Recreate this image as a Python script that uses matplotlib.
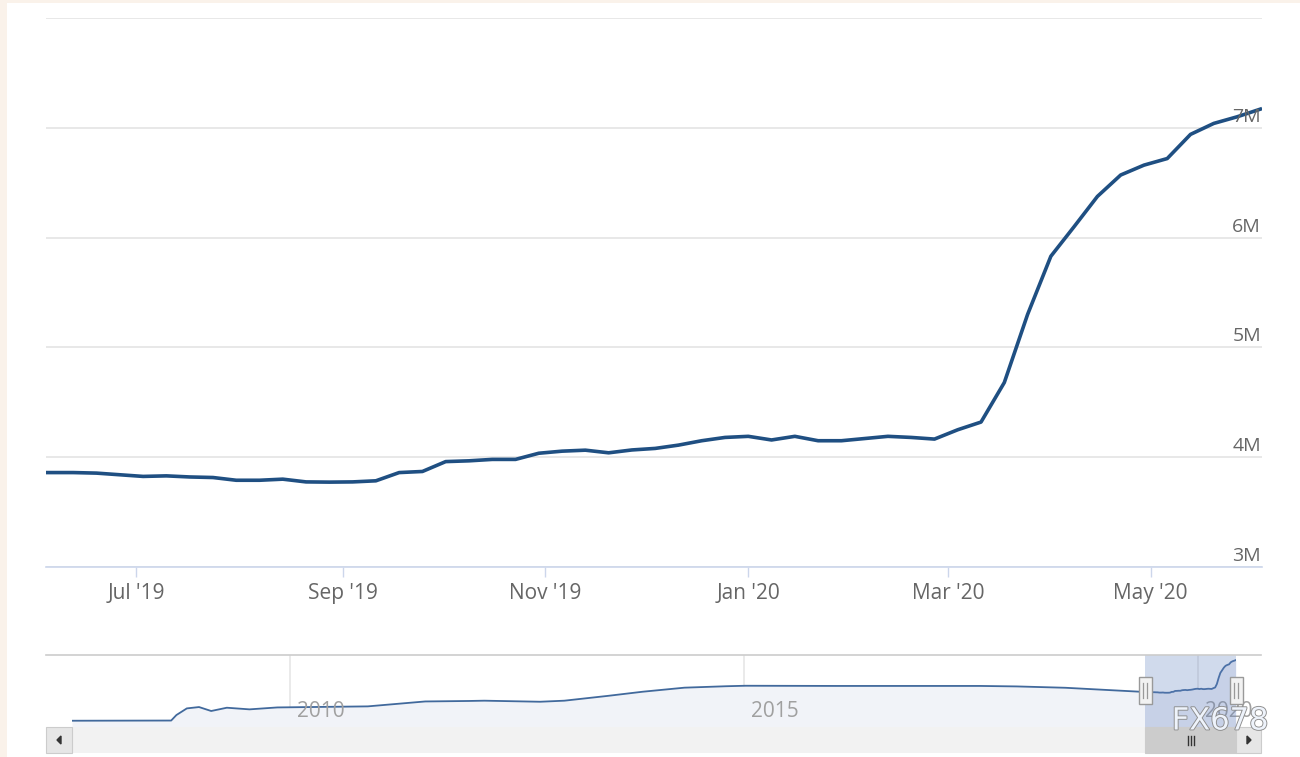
import matplotlib
matplotlib.use('Agg')
import matplotlib.pyplot as plt
import matplotlib.dates as mdates
import matplotlib.transforms as mtransforms
from matplotlib.patches import Rectangle, Polygon
from matplotlib.lines import Line2D
import matplotlib.patheffects as pe
import pandas as pd

plt.rcParams['font.family'] = ['Open Sans', 'DejaVu Sans']

W, H = 1300, 757

# ---------------- data ----------------
# weekly (Wednesday) values, in "M" units
main_start = '2019-05-29'
main_values = [
    3.86, 3.86, 3.86, 3.855, 3.84, 3.825, 3.83, 3.82, 3.815, 3.79,
    3.79, 3.80, 3.775, 3.773, 3.775, 3.785, 3.86, 3.87, 3.96, 3.967,
    3.98, 3.98, 4.036, 4.055, 4.064, 4.04, 4.066, 4.08, 4.11, 4.15,
    4.18, 4.19, 4.157, 4.19, 4.15, 4.15, 4.17, 4.19, 4.18, 4.165,
    4.25, 4.32, 4.68, 5.30, 5.83, 6.10, 6.375, 6.57, 6.66, 6.72,
    6.94, 7.04, 7.10, 7.17,
]
main_dates = pd.date_range(main_start, periods=len(main_values), freq='7D')

view_start = pd.Timestamp('2019-06-03 19:00')
view_end = pd.Timestamp('2020-06-03 12:00')

y_ticks = [3, 4, 5, 6, 7, 8]
y_labels = ['3M', '4M', '5M', '6M', '7M', '']
x_tick_dates = ['2019-07-01', '2019-09-01', '2019-11-01',
                '2020-01-01', '2020-03-01', '2020-05-01']
x_tick_labels = ["Jul '19", "Sep '19", "Nov '19", "Jan '20", "Mar '20", "May '20"]

# long history for the navigator (before the weekly data above)
hist_dates = ['2007-08-08', '2008-09-10', '2008-10-01', '2008-11-12', '2008-12-31',
              '2009-02-18', '2009-04-22', '2009-07-22', '2009-11-11', '2010-11-10',
              '2011-06-29', '2011-12-21', '2012-02-22', '2012-10-03', '2013-01-09',
              '2013-07-03', '2013-11-20', '2014-05-07', '2014-10-22', '2015-01-07',
              '2016-01-06', '2017-08-09', '2018-01-03', '2018-07-18', '2019-01-02']
hist_values = [0.87, 0.89, 1.46, 2.15, 2.29,
               1.88, 2.22, 2.05, 2.25, 2.36,
               2.87, 2.92, 2.95, 2.84, 2.95,
               3.45, 3.88, 4.30, 4.45, 4.50,
               4.48, 4.48, 4.43, 4.29, 4.06]

nav_year_ticks = ['2010-01-01', '2015-01-01', '2020-01-01']
nav_year_labels = ['2010', '2015', '2020']

# ---------------- figure ----------------
fig = plt.figure(figsize=(W / 100, H / 100), dpi=100, facecolor='#faf2ea')


def rect(x, y, w, h, **kw):
    r = Rectangle((x / W, 1 - (y + h) / H), w / W, h / H,
                  transform=fig.transFigure, **kw)
    fig.add_artist(r)
    return r


def fline(xs, ys, **kw):
    fig.add_artist(Line2D([x / W for x in xs], [1 - y / H for y in ys],
                          transform=fig.transFigure, **kw))


# white panel
rect(7, 3, W - 7, H - 3, facecolor='white', edgecolor='none', zorder=0)

# ---------------- main chart ----------------
ax = fig.add_axes([46 / W, 1 - 567 / H, 1216 / W, 549 / H])
ax.set_facecolor('none')
ax.plot(main_dates, main_values, color='#1f4f82', lw=2.6,
        solid_joinstyle='round', zorder=3)
ax.set_xlim(view_start, view_end)
ax.set_ylim(3, 8)
ax.set_yticks(y_ticks)
ax.set_yticklabels([])
ax.tick_params(axis='y', length=0)
ax.grid(axis='y', color='#e6e6e6', lw=1.3)
for s in ['top', 'left', 'right']:
    ax.spines[s].set_visible(False)
ax.spines['bottom'].set_color('#ccd6eb')
ax.spines['bottom'].set_linewidth(1.2)
ax.spines['bottom'].set_zorder(4)
ax.set_xticks(pd.to_datetime(x_tick_dates))
ax.set_xticklabels(x_tick_labels)
ax.tick_params(axis='x', direction='out', length=7.5, width=1, color='#ccd6eb',
               labelcolor='#666666', labelsize=15, pad=4)

ytrans = mtransforms.blended_transform_factory(ax.transAxes, ax.transData)
ytrans = mtransforms.offset_copy(ytrans, fig=fig, x=-1, y=11, units='dots')
for v, lab in zip(y_ticks, y_labels):
    if lab:
        ax.text(1.0, v, lab, transform=ytrans, ha='right', va='center',
                fontsize=14, color='#666666', zorder=5)

# ---------------- navigator ----------------
nav_dates = list(pd.to_datetime(hist_dates)) + list(main_dates[main_dates > pd.Timestamp(hist_dates[-1])])
nav_values = list(hist_values) + [v for d, v in zip(main_dates, main_values)
                                  if d > pd.Timestamp(hist_dates[-1])]

nav = fig.add_axes([72 / W, 1 - 727 / H, 1164 / W, 72 / H])
nav.set_facecolor('none')
nav.fill_between(nav_dates, nav_values, 0, color='#f1f3f8', lw=0, zorder=1)
nav.plot(nav_dates, nav_values, color='#41699c', lw=1.3, zorder=2)
nav.set_xlim(nav_dates[0], nav_dates[-1])
nav.set_ylim(0.22, 7.69)
nav.set_xticks([])
nav.set_yticks([])
for s in nav.spines.values():
    s.set_visible(False)
ntrans = mtransforms.blended_transform_factory(nav.transData, nav.transAxes)
ltrans = mtransforms.offset_copy(ntrans, fig=fig, x=7, y=0, units='dots')
for d, lab in zip(pd.to_datetime(nav_year_ticks), nav_year_labels):
    nav.axvline(d, color='#e6e6e6', lw=1.2, zorder=0.5)
    nav.text(d, 0.21, lab, transform=ltrans, ha='left', va='center',
             fontsize=15, color='#a0a0a0', zorder=2.5)

# selected range mask
nav.axvspan(view_start, view_end, ymin=0, ymax=1,
            color=(102 / 255, 133 / 255, 194 / 255, 0.3), lw=0, zorder=3)

# navigator top outline
fline([46, 1261], [655, 655], color='#cccccc', lw=1.2, zorder=5)

# pixel positions of the selection
fig.canvas.draw()
px0 = nav.transData.transform((mdates.date2num(view_start), 0))[0]
px1 = nav.transData.transform((mdates.date2num(view_end), 0))[0]

# ---------------- scrollbar ----------------
rect(46, 727, 1215, 26, facecolor='#f2f2f2', edgecolor='none', zorder=4)
rect(px0, 727, px1 - px0, 26, facecolor='#cccccc', edgecolor='#cccccc', lw=0.8, zorder=5)
cx = (px0 + px1) / 2
for dx in (-3, 0, 3):
    fline([cx + dx, cx + dx], [736, 745], color='#333333', lw=1, zorder=6)
rect(46, 727, 26, 26, facecolor='#e6e6e6', edgecolor='#cccccc', lw=0.8, zorder=6)
rect(1236, 727, 25, 26, facecolor='#e6e6e6', edgecolor='#cccccc', lw=0.8, zorder=6)
fig.add_artist(Polygon([(57 / W, 1 - 740 / H), (61 / W, 1 - 736 / H), (61 / W, 1 - 744 / H)],
                       closed=True, transform=fig.transFigure, color='#333333', zorder=7))
fig.add_artist(Polygon([(1251 / W, 1 - 740 / H), (1247 / W, 1 - 736 / H), (1247 / W, 1 - 744 / H)],
                       closed=True, transform=fig.transFigure, color='#333333', zorder=7))

# handles
for hx in (px0, px1):
    rect(hx - 6.5, 677, 13, 27, facecolor='#f2f2f2', edgecolor='#999999', lw=1, zorder=8)
    for dx in (-1.8, 1.8):
        fline([hx + dx, hx + dx], [683, 698], color='#999999', lw=0.9, zorder=9)

# watermark
fig.text(1220 / W, 1 - 721 / H, 'FX678', ha='center', va='center', fontsize=22,
         family='DejaVu Sans', color='#eef3fb', zorder=10,
         path_effects=[pe.withStroke(linewidth=1.3, foreground='#8c8c8c')])

fig.savefig('out.png', dpi=100, facecolor=fig.get_facecolor())
